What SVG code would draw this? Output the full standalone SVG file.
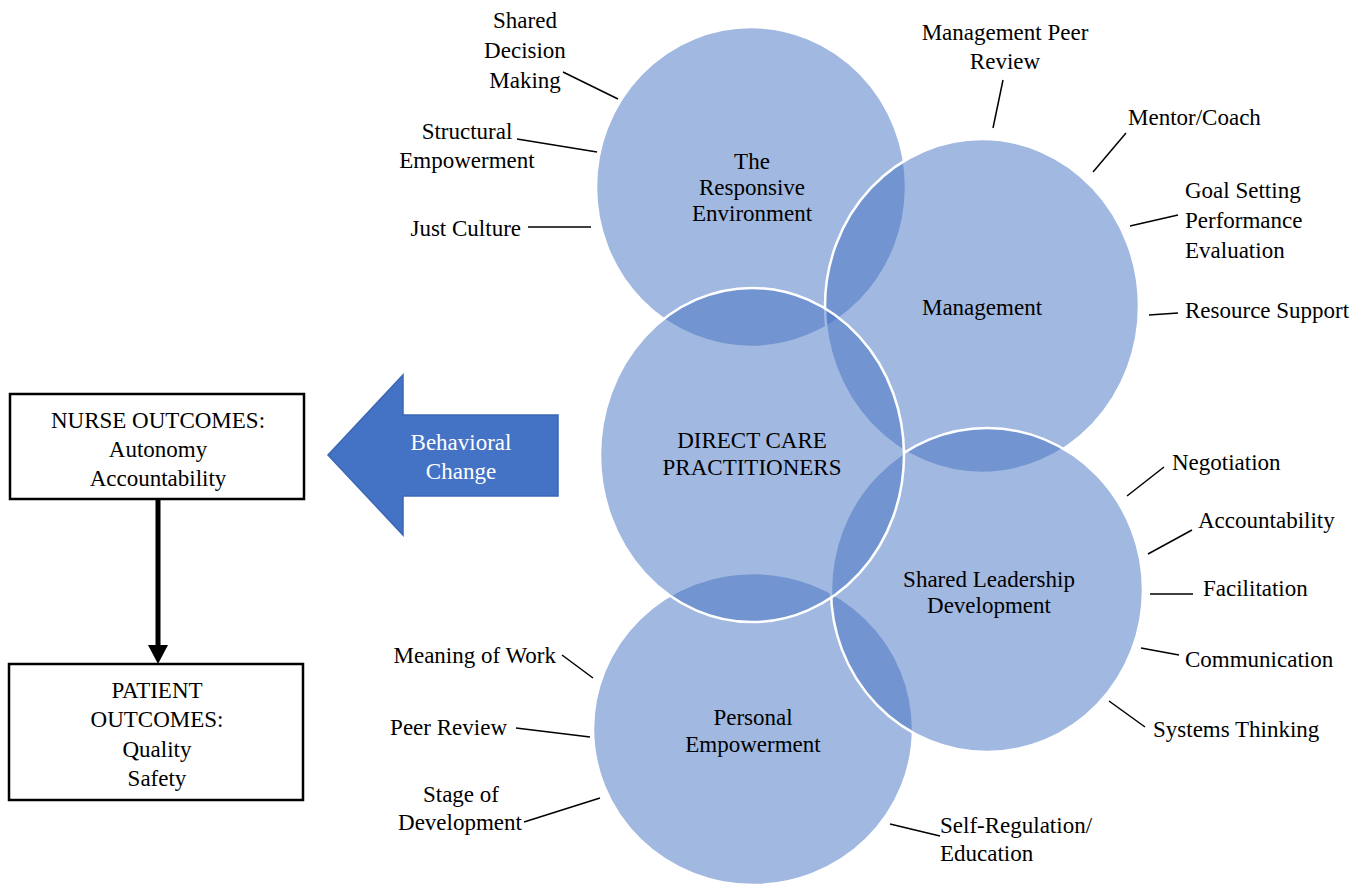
<svg xmlns="http://www.w3.org/2000/svg" width="1362" height="886" viewBox="0 0 1362 886">
  <style>
    text { font-family: "Liberation Serif", "DejaVu Serif", "Noto Serif", serif; font-size: 23px; fill: #000; }
    .c { text-anchor: middle; }
    .r { text-anchor: end; }
    .w { fill: #ffffff; }
    .ring { fill: #4472C4; fill-opacity: 0.5; stroke: #ffffff; stroke-width: 2.5; }
    .lead { stroke: #000; stroke-width: 1.5; fill: none; }
    .box { fill: #fff; stroke: #000; stroke-width: 2.5; }
  </style>

  <!-- overlapping circles, drawn back to front -->
  <g id="responsive-environment">
    <ellipse class="ring" cx="751" cy="187" rx="155" ry="160"/>
    <text class="c" x="752" y="169">The</text>
    <text class="c" x="752" y="195">Responsive</text>
    <text class="c" x="752" y="221">Environment</text>
  </g>
  <g id="management">
    <ellipse class="ring" cx="982" cy="306" rx="157" ry="167"/>
    <text class="c" x="982" y="315">Management</text>
  </g>
  <g id="personal-empowerment">
    <ellipse class="ring" cx="753" cy="729" rx="160" ry="156"/>
    <text class="c" x="753" y="725">Personal</text>
    <text class="c" x="753" y="752">Empowerment</text>
  </g>
  <g id="shared-leadership">
    <ellipse class="ring" cx="987" cy="590" rx="156" ry="162"/>
    <text class="c" x="989" y="587">Shared Leadership</text>
    <text class="c" x="989" y="613">Development</text>
  </g>
  <g id="direct-care">
    <ellipse class="ring" cx="752" cy="455" rx="152" ry="167"/>
    <text class="c" x="752" y="448">DIRECT CARE</text>
    <text class="c" x="752" y="475">PRACTITIONERS</text>
  </g>

  <!-- outcome boxes -->
  <g id="nurse-outcomes">
    <rect class="box" x="10" y="394" width="294" height="105"/>
    <text class="c" x="158" y="428">NURSE OUTCOMES:</text>
    <text class="c" x="158" y="457">Autonomy</text>
    <text class="c" x="158" y="486">Accountability</text>
  </g>
  <g id="patient-outcomes">
    <rect class="box" x="9" y="664" width="294" height="136"/>
    <text class="c" x="157" y="698">PATIENT</text>
    <text class="c" x="157" y="727">OUTCOMES:</text>
    <text class="c" x="157" y="757">Quality</text>
    <text class="c" x="157" y="786">Safety</text>
  </g>

  <!-- behavioral change block arrow -->
  <g id="behavioral-change">
    <path d="M558,415 L403,415 L403,375 L328,455 L403,535 L403,496 L558,496 Z" fill="#4472C4" stroke="#3B67B5" stroke-width="1.5"/>
    <text class="c w" x="461" y="450">Behavioral</text>
    <text class="c w" x="461" y="479">Change</text>
  </g>

  <!-- satellite labels -->
  <g id="labels">
    <text class="c" x="525" y="28">Shared</text>
    <text class="c" x="525" y="58">Decision</text>
    <text class="c" x="525" y="88">Making</text>
    <text class="c" x="467" y="139">Structural</text>
    <text class="c" x="467" y="168">Empowerment</text>
    <text class="r" x="521" y="236">Just Culture</text>

    <text class="c" x="1005" y="40">Management Peer</text>
    <text class="c" x="1005" y="69">Review</text>
    <text x="1128" y="125">Mentor/Coach</text>
    <text x="1185" y="198">Goal Setting</text>
    <text x="1185" y="228">Performance</text>
    <text x="1185" y="258">Evaluation</text>
    <text x="1185" y="318">Resource Support</text>

    <text x="1172" y="470">Negotiation</text>
    <text x="1198" y="528">Accountability</text>
    <text x="1203" y="596">Facilitation</text>
    <text x="1185" y="667">Communication</text>
    <text x="1153" y="737">Systems Thinking</text>

    <text class="r" x="556" y="663">Meaning of Work</text>
    <text class="r" x="507" y="735">Peer Review</text>
    <text class="c" x="461" y="802">Stage of</text>
    <text class="c" x="460" y="830">Development</text>
    <text x="940" y="833">Self-Regulation/</text>
    <text x="940" y="861">Education</text>
  </g>

  <!-- connectors -->
  <g id="connectors">
    <line class="lead" x1="563" y1="72" x2="618" y2="99"/>
    <line class="lead" x1="517" y1="139" x2="597" y2="152"/>
    <line class="lead" x1="528" y1="227" x2="591" y2="227"/>

    <line class="lead" x1="1003" y1="80" x2="993" y2="128"/>
    <line class="lead" x1="1126" y1="133" x2="1093" y2="172"/>
    <line class="lead" x1="1178" y1="215" x2="1130" y2="226"/>
    <line class="lead" x1="1178" y1="313" x2="1149" y2="315"/>

    <line class="lead" x1="1164" y1="467" x2="1127" y2="496"/>
    <line class="lead" x1="1192" y1="530" x2="1148" y2="554"/>
    <line class="lead" x1="1193" y1="594" x2="1150" y2="594"/>
    <line class="lead" x1="1179" y1="655" x2="1141" y2="648"/>
    <line class="lead" x1="1145" y1="727" x2="1109" y2="701"/>

    <line class="lead" x1="562" y1="655" x2="593" y2="678"/>
    <line class="lead" x1="516" y1="728" x2="590" y2="737"/>
    <line class="lead" x1="524" y1="822" x2="600" y2="798"/>
    <line class="lead" x1="890" y1="824" x2="940" y2="836"/>

    <line x1="158" y1="499" x2="158" y2="648" stroke="#000" stroke-width="5"/>
    <path d="M148,645 L168,645 L158,664 Z" fill="#000"/>
  </g>
</svg>
